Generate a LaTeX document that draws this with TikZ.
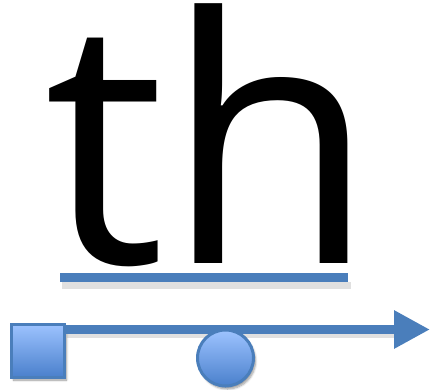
\documentclass[tikz,border=0pt]{standalone}
\usepackage{fontspec}
\setmainfont{Open Sans}
\usetikzlibrary{shadows.blur,arrows.meta}
\definecolor{lineblue}{HTML}{4A7EBB}
\definecolor{topblue}{HTML}{9DC3FF}
\definecolor{botblue}{HTML}{4A80CC}
\tikzset{
  shapebox/.style={draw=lineblue, line width=3pt, top color=topblue, bottom color=botblue,
    blur shadow={shadow xshift=2pt, shadow yshift=-3pt, shadow blur steps=6, shadow opacity=40}},
  bar/.style={draw=lineblue, line width=9pt},
  softshadow/.style={fill=black!40, opacity=0.3},
}
\begin{document}
\begin{tikzpicture}[x=1pt,y=-1pt]
\useasboundingbox (0,0) rectangle (430,389);
\node[anchor=base west, inner sep=0pt, font=\fontsize{342}{360}\selectfont] (word) at (44.5,263) {th};
\coordinate (ulA) at (60,277.5);
\coordinate (ulB) at (348,277.5);
\fill[softshadow] ([xshift=2pt]ulA |- 0,282) rectangle ([xshift=3pt]ulB |- 0,289);
\draw[bar] (ulA) -- (ulB);
\coordinate (tip) at (430,329.5);
\node[shapebox, minimum size=53pt, inner sep=0pt] (sq) at (38,350.5) {};
\fill[softshadow] ([xshift=1pt]sq.east |- 0,334) rectangle (396,338);
\draw[draw=lineblue, line width=9pt, -{Triangle[length=36pt,width=36pt]}] (sq.east |- tip) -- (tip);
\node[shapebox, circle, minimum size=56pt, inner sep=0pt] (dot) at (225.5,358) {};
\end{tikzpicture}
\end{document}
